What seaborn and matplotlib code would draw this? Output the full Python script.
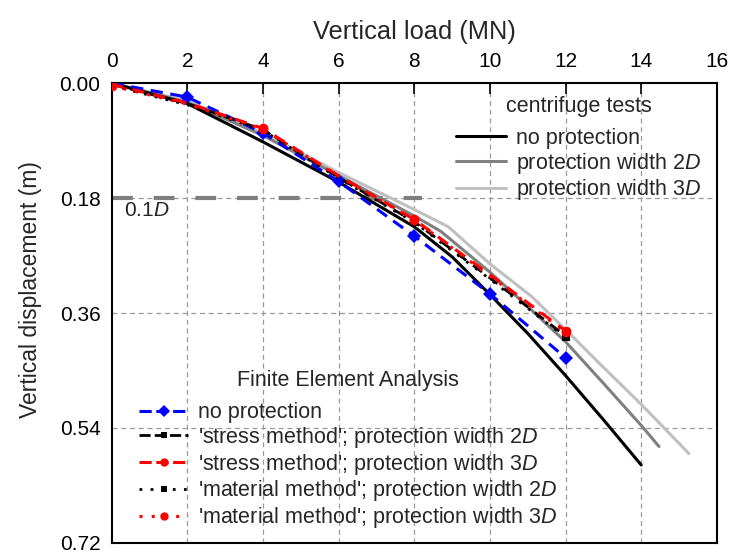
import matplotlib
matplotlib.use("Agg")
import matplotlib.pyplot as plt
import seaborn as sns
import numpy as np
from matplotlib.lines import Line2D

# ---------------- data ----------------
# centrifuge tests
cf_none_x = [0, 2, 4, 6, 8, 9, 10, 11, 12, 13, 14]
cf_none_y = [0, 0.032, 0.092, 0.155, 0.225, 0.272, 0.331, 0.392, 0.458, 0.527, 0.598]
cf_2d_x = [0, 2, 4, 6, 8, 8.7, 10, 11, 12, 13, 14, 14.47]
cf_2d_y = [0, 0.030, 0.082, 0.145, 0.208, 0.232, 0.296, 0.350, 0.405, 0.470, 0.536, 0.569]
cf_3d_x = [0, 2, 4, 6, 8, 8.9, 10, 11.1, 12, 13, 14, 15.26]
cf_3d_y = [0, 0.028, 0.078, 0.140, 0.198, 0.225, 0.283, 0.334, 0.386, 0.445, 0.503, 0.580]

# finite element analysis
fe_x = [0, 2, 4, 6, 8, 10, 12]
fe_none_y = [0.0, 0.022, 0.078, 0.154, 0.2395, 0.330, 0.430]
fe_stress_2d_y = [0.002, 0.032, 0.073, 0.148, 0.217, 0.305, 0.396]
fe_stress_3d_y = [0.002, 0.031, 0.071, 0.145, 0.2135, 0.300, 0.388]
fe_mat_2d_y = [0.004, 0.034, 0.074, 0.149, 0.218, 0.307, 0.398]
fe_mat_3d_y = [0.004, 0.033, 0.072, 0.146, 0.214, 0.302, 0.390]

x_ticks = [0, 2, 4, 6, 8, 10, 12, 14, 16]
y_ticks = [0.00, 0.18, 0.36, 0.54, 0.72]
ref_level = 0.18
ref_end = 8.2

# ---------------- style ----------------
sns.set_theme(style="white")
plt.rcParams['font.family'] = ['Liberation Sans', 'DejaVu Sans']
plt.rcParams['mathtext.fontset'] = 'custom'
plt.rcParams['mathtext.rm'] = 'Liberation Sans'
plt.rcParams['mathtext.it'] = 'Liberation Sans:italic'

fig = plt.figure(figsize=(7.3, 5.54), dpi=100)
ax = fig.add_axes([0.153, 0.02, 0.829, 0.83])

# grid
for xv in x_ticks[1:-1]:
    ax.axvline(xv, color='#9a9a9a', lw=0.9, dashes=(4, 3), zorder=0)
for yv in y_ticks[1:-1]:
    ax.axhline(yv, color='#9a9a9a', lw=0.9, dashes=(4, 3), zorder=0)

# reference line 0.1D
sns.lineplot(x=[0, ref_end], y=[ref_level, ref_level], ax=ax, color='#7f7f7f',
             lw=3, zorder=1)
ax.lines[-1].set_dashes((5, 5))
ax.text(0.32, 0.2, "0.1$\\it{D}$", fontsize=15, va='center', ha='left')

# centrifuge tests
kw = dict(ax=ax, sort=False, estimator=None)
sns.lineplot(x=cf_3d_x, y=cf_3d_y, color='#c0c0c0', lw=2.2, zorder=2, **kw)
sns.lineplot(x=cf_2d_x, y=cf_2d_y, color='#808080', lw=2.2, zorder=2, **kw)
sns.lineplot(x=cf_none_x, y=cf_none_y, color='black', lw=2.2, zorder=3, **kw)

# FE
mk = [0, 2, 4, 6]
sns.lineplot(x=fe_x, y=fe_none_y, color='#0000ff', lw=2.2, marker='D', markersize=7,
             markeredgewidth=0, zorder=4, **kw)
ax.lines[-1].set_dashes((4, 2.5))
sns.lineplot(x=fe_x, y=fe_stress_2d_y, color='black', lw=2, marker='s', markersize=6,
             markeredgewidth=0, markevery=mk, zorder=4, **kw)
ax.lines[-1].set_dashes((4, 3))
sns.lineplot(x=fe_x, y=fe_mat_2d_y, color='black', lw=2, marker='s', markersize=6,
             markeredgewidth=0, markevery=mk, zorder=4, **kw)
ax.lines[-1].set_dashes((1, 3))
sns.lineplot(x=fe_x, y=fe_stress_3d_y, color='#ff0000', lw=2.2, marker='o', markersize=7,
             markeredgewidth=0, markevery=mk, zorder=5, **kw)
ax.lines[-1].set_dashes((4, 3))
sns.lineplot(x=fe_x, y=fe_mat_3d_y, color='#ff0000', lw=2.2, marker='o', markersize=7,
             markeredgewidth=0, markevery=mk, zorder=5, **kw)
ax.lines[-1].set_dashes((1, 3))

# axes
ax.set_xlim(0, 16)
ax.set_ylim(0.72, 0)
ax.set_xticks(x_ticks)
ax.set_yticks(y_ticks)
ax.set_yticklabels([f"{v:.2f}" for v in y_ticks])
ax.xaxis.tick_top()
ax.xaxis.set_label_position('top')
ax.tick_params(axis='both', direction='in', length=8, width=1.2, labelsize=15, pad=9,
               colors='black', top=True, bottom=False, left=False, right=False)
ax.tick_params(axis='y', length=0, pad=8)
ax.set_xlabel("Vertical load (MN)", fontsize=18.3, labelpad=9)
ax.set_ylabel("Vertical displacement (m)", fontsize=16.5)
ax.yaxis.set_label_coords(-0.115, 0.55)
for s in ax.spines.values():
    s.set_color('black')
    s.set_linewidth(1.5)

# legends
h1 = [Line2D([], [], color='black', lw=2.2),
      Line2D([], [], color='#808080', lw=2.2),
      Line2D([], [], color='#c0c0c0', lw=2.2)]
l1 = ["no protection", "protection width 2$\\it{D}$", "protection width 3$\\it{D}$"]
leg1 = ax.legend(h1, l1, title="centrifuge tests", loc='upper right',
                 bbox_to_anchor=(1.0, 1.005), frameon=False, fontsize=15.5,
                 title_fontsize=15.5, handlelength=2.3, handletextpad=0.5,
                 labelspacing=0.08, borderaxespad=0.3)
leg1._legend_box.sep = 8
ax.add_artist(leg1)

h2 = [Line2D([], [], color='#0000ff', lw=2.2, marker='D', markersize=6, markeredgewidth=0, dashes=(4, 1.5)),
      Line2D([], [], color='black', lw=2, marker='s', markersize=5, markeredgewidth=0, dashes=(4, 1.5)),
      Line2D([], [], color='#ff0000', lw=2.2, marker='o', markersize=6, markeredgewidth=0, dashes=(4, 1.5)),
      Line2D([], [], color='black', lw=2, marker='s', markersize=5, markeredgewidth=0, dashes=(1, 3)),
      Line2D([], [], color='#ff0000', lw=2.2, marker='o', markersize=6, markeredgewidth=0, dashes=(1, 3))]
l2 = ["no protection",
      "'stress method'; protection width 2$\\it{D}$",
      "'stress method'; protection width 3$\\it{D}$",
      "'material method'; protection width 2$\\it{D}$",
      "'material method'; protection width 3$\\it{D}$"]
leg2 = ax.legend(h2, l2, title="Finite Element Analysis", loc='lower left',
                 bbox_to_anchor=(0.02, -0.005), frameon=False, fontsize=15.5,
                 title_fontsize=15.5, handlelength=2.3, handletextpad=0.45,
                 labelspacing=0.08, borderaxespad=0.3)
leg2._legend_box.sep = 8

fig.savefig("out.png", dpi=100)
